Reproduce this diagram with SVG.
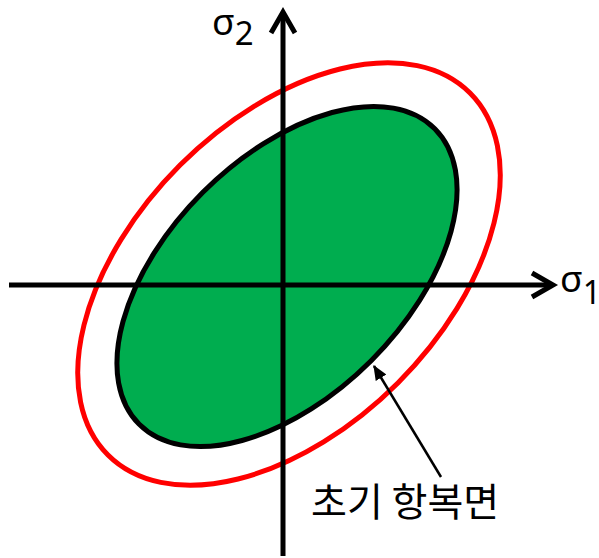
<svg xmlns="http://www.w3.org/2000/svg" width="599" height="558" viewBox="0 0 599 558">
<style>
.axis{stroke:#000;stroke-width:5;fill:none}
.head{stroke:#000;stroke-width:5;fill:none;stroke-linejoin:miter;stroke-linecap:butt}
.lbl{font-family:"Noto Sans","Open Sans","DejaVu Sans",sans-serif;fill:#000}
.kr{font-family:"Noto Sans CJK KR","Noto Sans",sans-serif;fill:#000}
</style>
<defs>
<marker id="ptr" viewBox="0 0 12 10" refX="11" refY="5" markerWidth="6" markerHeight="5" orient="auto" markerUnits="strokeWidth">
<path d="M0,0 L12,5 L0,10 Z" fill="#000"/>
</marker>
</defs>
<g id="red-surface">
<ellipse cx="289" cy="274" rx="256" ry="154" transform="rotate(-45 289 274)" fill="none" stroke="#FF0000" stroke-width="5"/>
</g>
<g id="initial-yield-surface">
<ellipse cx="287" cy="276.5" rx="209" ry="119" transform="rotate(-45 287 276.5)" fill="#00AD4F" stroke="#000" stroke-width="5"/>
</g>
<g id="connectors">
<line class="axis" x1="9" y1="285" x2="553" y2="285"/>
<polyline class="head" points="532,273 553,285 532,297"/>
<line class="axis" x1="283" y1="556" x2="283" y2="12"/>
<polyline class="head" points="271,33 283,12 295,33"/>
<line x1="441" y1="477" x2="374" y2="366" stroke="#000" stroke-width="2.5" marker-end="url(#ptr)"/>
</g>
<g id="sigma2">
<text class="lbl" x="212" y="35" font-size="37">σ<tspan font-size="33" dy="10">2</tspan></text>
</g>
<g id="sigma1">
<text class="lbl" x="560" y="292" font-size="37">σ<tspan font-size="32" dy="12">1</tspan></text>
</g>
<g id="label">
<text class="kr" x="311" y="516" font-size="39">초기 항복면</text>
</g>
</svg>
